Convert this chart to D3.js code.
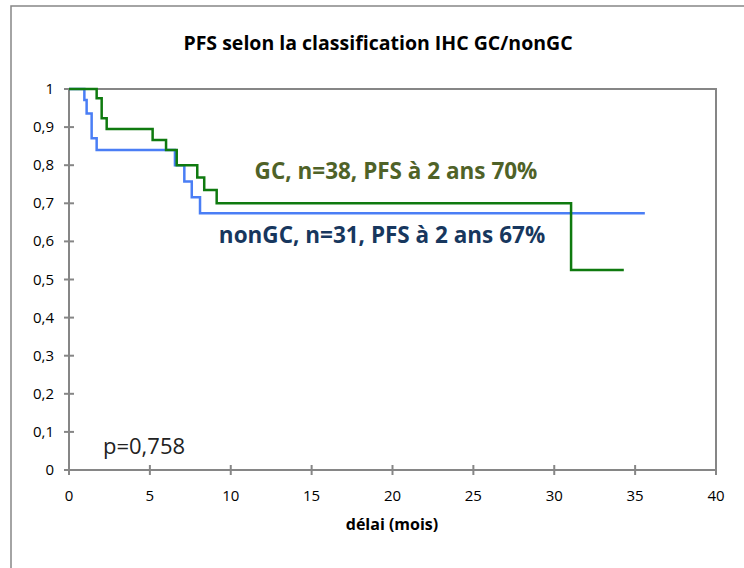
<!DOCTYPE html>
<html>
<head>
<meta charset="utf-8">
<script src="https://cdn.jsdelivr.net/npm/d3@7"></script>
<style>
  body { margin: 0; background: #fff; }
  svg { display: block; font-family: "Open Sans", sans-serif; }
</style>
</head>
<body>
<div id="chart"></div>
<script>
// Kaplan-Meier steps
const gcTimes   = [0, 1.71, 2.02, 2.33, 5.17, 6.0, 6.66, 7.93, 8.36, 9.13, 31.04, 34.3];
const gcSurv    = [1, 0.976, 0.923, 0.895, 0.866, 0.840, 0.800, 0.768, 0.735, 0.700, 0.525, 0.525];
const nonTimes  = [0, 0.95, 1.09, 1.40, 1.71, 6.55, 7.13, 7.59, 8.10, 35.6];
const nonSurv   = [1, 0.971, 0.936, 0.871, 0.840, 0.800, 0.757, 0.716, 0.674, 0.674];
const xTicks = [0, 5, 10, 15, 20, 25, 30, 35, 40];
const yTicks = [0, 0.1, 0.2, 0.3, 0.4, 0.5, 0.6, 0.7, 0.8, 0.9, 1];

const width = 744, height = 568;
const axisGrey = "#868686";

const svg = d3.select("#chart").append("svg")
    .attr("width", width)
    .attr("height", height);

// outer chart border
svg.append("rect")
    .attr("x", 11).attr("y", 6)
    .attr("width", 740).attr("height", 570)
    .attr("fill", "none")
    .attr("stroke", axisGrey)
    .attr("stroke-width", 1.5);

const x = d3.scaleLinear().domain([0, 40]).range([69, 716]);
const y = d3.scaleLinear().domain([0, 1]).range([470, 89]);

// plot frame (top & right)
svg.append("path")
    .attr("d", `M${x(0)},${y(1)}H${x(40)}V${y(0)}`)
    .attr("fill", "none")
    .attr("stroke", axisGrey)
    .attr("stroke-width", 2);

// axes
svg.append("line")
    .attr("x1", x(0)).attr("x2", x(40))
    .attr("y1", y(0)).attr("y2", y(0))
    .attr("stroke", axisGrey).attr("stroke-width", 2);
svg.append("line")
    .attr("x1", x(0)).attr("x2", x(0))
    .attr("y1", y(0)).attr("y2", y(1))
    .attr("stroke", axisGrey).attr("stroke-width", 2);

svg.selectAll("line.xtick")
    .data(xTicks)
    .enter().append("line")
    .attr("class", "xtick")
    .attr("x1", d => x(d)).attr("x2", d => x(d))
    .attr("y1", y(0) - 5).attr("y2", y(0) + 5)
    .attr("stroke", axisGrey).attr("stroke-width", 2);

svg.selectAll("line.ytick")
    .data(yTicks)
    .enter().append("line")
    .attr("class", "ytick")
    .attr("x1", x(0) - 5).attr("x2", x(0) + 5)
    .attr("y1", d => y(d)).attr("y2", d => y(d))
    .attr("stroke", axisGrey).attr("stroke-width", 2);

svg.selectAll("text.xlab")
    .data(xTicks)
    .enter().append("text")
    .attr("class", "xlab")
    .attr("x", d => x(d))
    .attr("y", y(0) + 31)
    .attr("text-anchor", "middle")
    .style("font-size", "15px")
    .text(d => d);

const fmt = d => d === 0 || d === 1 ? String(d) : d.toFixed(1).replace(".", ",");
svg.selectAll("text.ylab")
    .data(yTicks)
    .enter().append("text")
    .attr("class", "ylab")
    .attr("x", x(0) - 15)
    .attr("y", d => y(d) + 5)
    .attr("text-anchor", "end")
    .style("font-size", "15px")
    .text(fmt);

// survival curves
const line = d3.line()
    .x(d => x(d[0]))
    .y(d => y(d[1]))
    .curve(d3.curveStepAfter);

svg.append("path")
    .datum(d3.zip(nonTimes, nonSurv))
    .attr("d", line)
    .attr("fill", "none")
    .attr("stroke", "#4a7ef5")
    .attr("stroke-width", 2.5);

svg.append("path")
    .datum(d3.zip(gcTimes, gcSurv))
    .attr("d", line)
    .attr("fill", "none")
    .attr("stroke", "#0f7a0f")
    .attr("stroke-width", 2.5);

// texts
svg.append("text")
    .attr("x", 378).attr("y", 50)
    .attr("text-anchor", "middle")
    .style("font-weight", "bold")
    .style("font-size", "19.5px")
    .text("PFS selon la classification IHC GC/nonGC");

svg.append("text")
    .attr("x", 396).attr("y", 179)
    .attr("text-anchor", "middle")
    .style("font-weight", "bold")
    .style("font-size", "22.5px")
    .attr("fill", "#4f6228")
    .text("GC, n=38, PFS à 2 ans 70%");

svg.append("text")
    .attr("x", 382).attr("y", 243)
    .attr("text-anchor", "middle")
    .style("font-weight", "bold")
    .style("font-size", "22.5px")
    .attr("fill", "#17375e")
    .text("nonGC, n=31, PFS à 2 ans 67%");

svg.append("text")
    .attr("x", 103).attr("y", 454)
    .style("font-size", "22px")
    .attr("fill", "#222")
    .text("p=0,758");

svg.append("text")
    .attr("x", 392).attr("y", 530)
    .attr("text-anchor", "middle")
    .style("font-weight", "bold")
    .style("font-size", "16px")
    .text("délai (mois)");
</script>
</body>
</html>
